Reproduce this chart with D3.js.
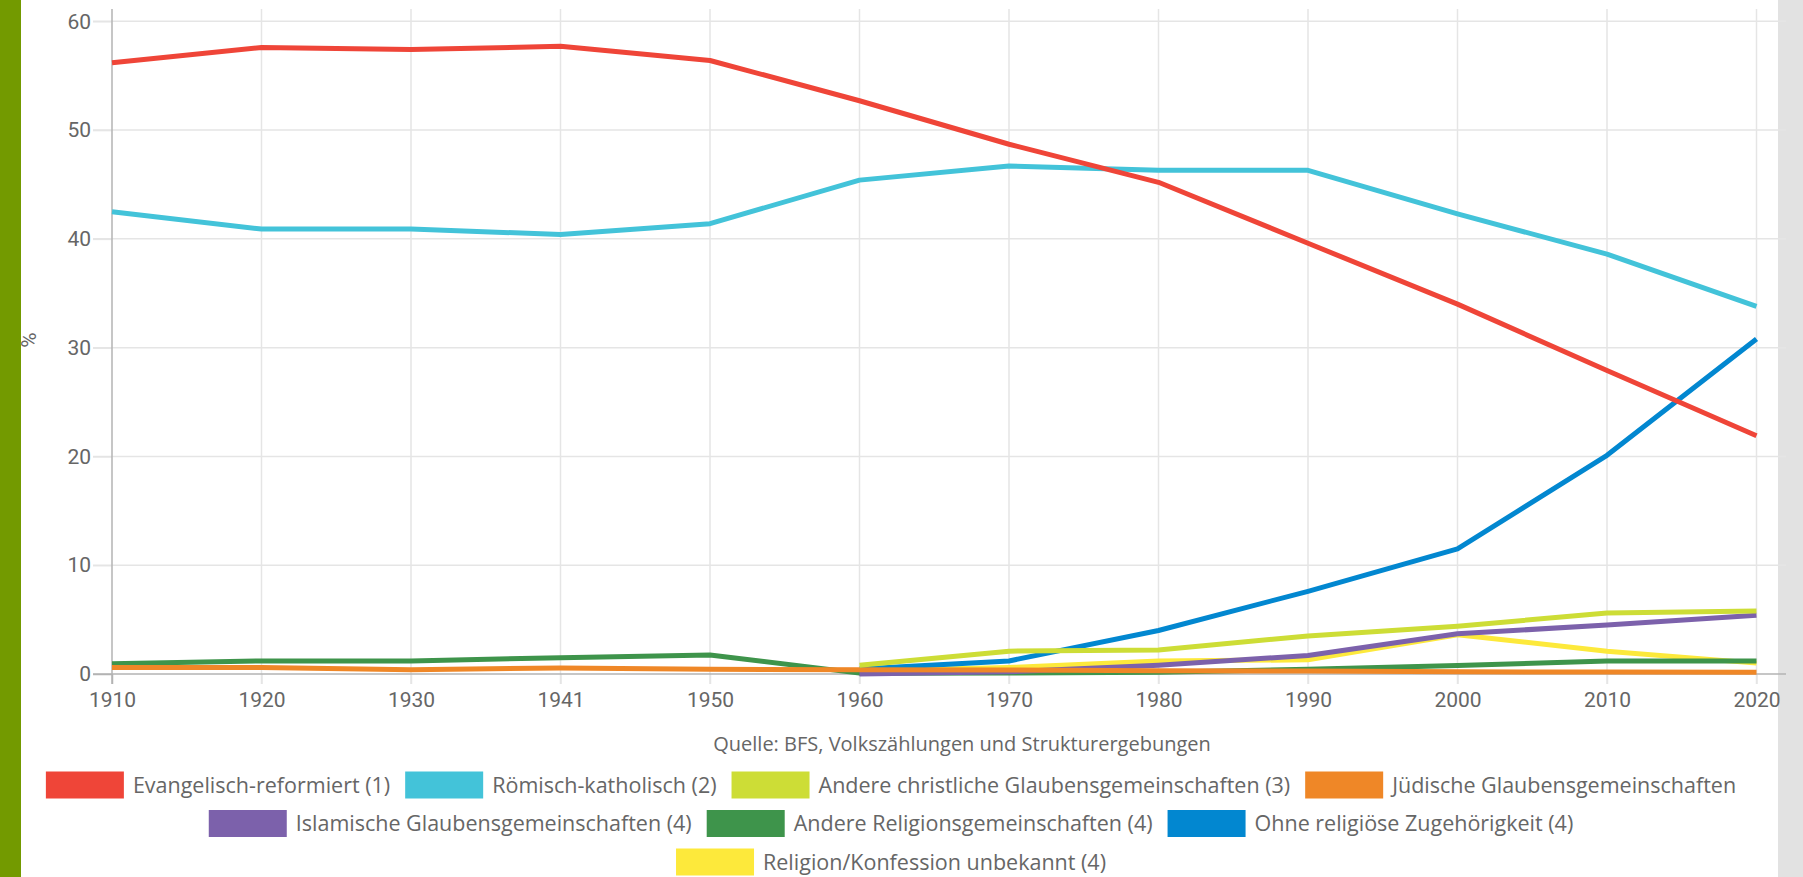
<!DOCTYPE html>
<html>
<head>
<meta charset="utf-8">
<script src="https://cdn.jsdelivr.net/npm/d3@7"></script>
<style>
  html, body { margin: 0; padding: 0; background: #fff; overflow: hidden; }
  svg { display: block; }
</style>
</head>
<body>
<div id="chart"></div>
<script>
// Data (% of population)

var years = ["1910", "1920", "1930", "1941", "1950", "1960", "1970", "1980", "1990", "2000", "2010", "2020"];

var reformiert   = [56.2, 57.6, 57.4, 57.7, 56.4, 52.7, 48.7, 45.2, 39.6, 34.0, 27.9, 21.9];
var katholisch   = [42.5, 40.9, 40.9, 40.4, 41.4, 45.4, 46.7, 46.3, 46.3, 42.3, 38.6, 33.8];
var christlich   = [null, null, null, null, null, 0.8, 2.1, 2.2, 3.5, 4.4, 5.6, 5.8];
var juedisch     = [0.6, 0.6, 0.4, 0.55, 0.43, 0.4, 0.37, 0.3, 0.28, 0.2, 0.18, 0.16];
var islamisch    = [null, null, null, null, null, 0.0, 0.2, 0.8, 1.7, 3.7, 4.5, 5.4];
var andereRelig  = [0.95, 1.2, 1.2, 1.5, 1.75, 0.08, 0.1, 0.15, 0.43, 0.77, 1.2, 1.2];
var ohne         = [null, null, null, null, null, 0.45, 1.2, 4.0, 7.6, 11.5, 20.1, 30.8];
var unbekannt    = [null, null, null, null, null, 0.3, 0.6, 1.2, 1.3, 3.6, 2.1, 1.0];

var seriesNames = [
  "Evangelisch-reformiert (1)",
  "Römisch-katholisch (2)",
  "Andere christliche Glaubensgemeinschaften (3)",
  "Jüdische Glaubensgemeinschaften",
  "Islamische Glaubensgemeinschaften (4)",
  "Andere Religionsgemeinschaften (4)",
  "Ohne religiöse Zugehörigkeit (4)",
  "Religion/Konfession unbekannt (4)"
];
var seriesValues = [reformiert, katholisch, christlich, juedisch, islamisch, andereRelig, ohne, unbekannt];
var seriesColors = ["#ef4538", "#43c3d9", "#cddd36", "#ef8727", "#7c61ab", "#3e944b", "#0287d0", "#fde93b"];

var yTicks = [0, 10, 20, 30, 40, 50, 60];
var sourceText = "Quelle: BFS, Volkszählungen und Strukturergebungen";

// Setup

var width = 1803,
    height = 877,
    plotLeft = 112,
    plotRight = 1786,
    plotTop = 9,
    lastX = 1756.5,
    yZero = 674,
    yTop = 21.3;

var svg = d3.select("#chart").append("svg")
    .attr("width", width)
    .attr("height", height);

// side decorations of the page
svg.append("rect").attr("x", 0).attr("y", 0).attr("width", 21).attr("height", height).attr("fill", "#739a00");
svg.append("rect").attr("x", 1778).attr("y", 0).attr("width", 25).attr("height", height).attr("fill", "#e2e2e2");

var x = d3.scalePoint()
    .domain(years)
    .range([plotLeft, lastX]);

var y = d3.scaleLinear()
    .domain([0, 60])
    .range([yZero, yTop]);

// Grid lines
var grid = svg.append("g");

grid.selectAll(".vgrid").data(years.slice(1)).enter()
  .append("line")
    .attr("x1", function(d) { return x(d); })
    .attr("x2", function(d) { return x(d); })
    .attr("y1", plotTop)
    .attr("y2", yZero + 10)
    .attr("stroke", "#e5e5e5")
    .attr("stroke-width", 1.5);

grid.selectAll(".hgrid").data(yTicks.slice(1)).enter()
  .append("line")
    .attr("x1", plotLeft - 19)
    .attr("x2", plotRight)
    .attr("y1", function(d) { return y(d); })
    .attr("y2", function(d) { return y(d); })
    .attr("stroke", "#e5e5e5")
    .attr("stroke-width", 1.5);

// Axes
var yAxis = d3.axisLeft(y).tickValues(yTicks).tickSize(19).tickPadding(2);
var xAxis = d3.axisBottom(x).tickSize(10).tickPadding(8);

var gy = svg.append("g")
    .attr("transform", "translate(" + plotLeft + ",0)")
    .call(yAxis);
gy.select(".domain").remove();
gy.append("line")
    .attr("x1", 0).attr("x2", 0)
    .attr("y1", plotTop).attr("y2", yZero + 10)
    .attr("stroke", "#b3b3b3").attr("stroke-width", 1.5);

var gx = svg.append("g")
    .attr("transform", "translate(0," + yZero + ")")
    .call(xAxis);
gx.select(".domain").remove();
gx.append("line")
    .attr("x1", plotLeft - 19).attr("x2", plotRight)
    .attr("y1", 0).attr("y2", 0)
    .attr("stroke", "#b3b3b3").attr("stroke-width", 1.5);

gy.selectAll(".tick line").attr("stroke", "#e5e5e5").attr("stroke-width", 1.5);
gy.select(".tick line").attr("stroke", "#b3b3b3");
gx.selectAll(".tick line").attr("stroke", "#e5e5e5").attr("stroke-width", 1.5);
gx.select(".tick line").attr("stroke", "#b3b3b3");

svg.selectAll(".tick text")
    .style("font-family", "Roboto, sans-serif")
    .style("font-size", "21px")
    .attr("fill", "#666");

// y axis title
svg.append("text")
    .attr("transform", "translate(36,340) rotate(-90)")
    .style("text-anchor", "middle")
    .style("font-family", "Roboto, sans-serif")
    .style("font-size", "21px")
    .attr("fill", "#666")
    .text("%");

// Lines, first series drawn last so it sits on top
var line = d3.line()
    .defined(function(d) { return d.value !== null; })
    .x(function(d) { return x(d.year); })
    .y(function(d) { return y(d.value); });

var seriesData = seriesNames.map(function(name, i) {
  return {
    name: name,
    color: seriesColors[i],
    points: years.map(function(yr, j) { return {year: yr, value: seriesValues[i][j]}; })
  };
});

svg.append("g").selectAll("path")
    .data(seriesData.slice().reverse())
    .enter()
  .append("path")
    .attr("d", function(d) { return line(d.points); })
    .attr("fill", "none")
    .attr("stroke", function(d) { return d.color; })
    .attr("stroke-width", 5)
    .attr("stroke-linejoin", "round");

// Source note
svg.append("text")
    .attr("x", 962)
    .attr("y", 751)
    .style("text-anchor", "middle")
    .style("font-family", "'Open Sans', sans-serif")
    .style("font-size", "20px")
    .attr("fill", "#666")
    .text(sourceText);

// Legend, wrapped into centred rows
var boxW = 78, boxH = 27, boxGap = 9, itemGap = 15, maxRow = 1740, legendCenter = 891;
var legend = svg.append("g");

var items = seriesData.map(function(d) {
  var g = legend.append("g");
  g.append("rect")
      .attr("width", boxW).attr("height", boxH)
      .attr("y", -boxH / 2)
      .attr("fill", d.color);
  var t = g.append("text")
      .attr("x", boxW + boxGap)
      .attr("dy", "0.35em")
      .style("font-family", "'Open Sans', sans-serif")
      .style("font-size", "21.5px")
      .attr("fill", "#666")
      .text(d.name);
  return {g: g, w: boxW + boxGap + t.node().getComputedTextLength()};
});

var rows = [[]], rowW = [0];
items.forEach(function(it) {
  var r = rows.length - 1;
  var add = (rows[r].length ? itemGap : 0) + it.w;
  if (rows[r].length && rowW[r] + add > maxRow) {
    rows.push([it]); rowW.push(it.w);
  } else {
    rows[r].push(it); rowW[r] += add;
  }
});

rows.forEach(function(row, r) {
  var cx = legendCenter - rowW[r] / 2;
  row.forEach(function(it) {
    it.g.attr("transform", "translate(" + cx + "," + (785 + r * 38.5) + ")");
    cx += it.w + itemGap;
  });
});
</script>
</body>
</html>
